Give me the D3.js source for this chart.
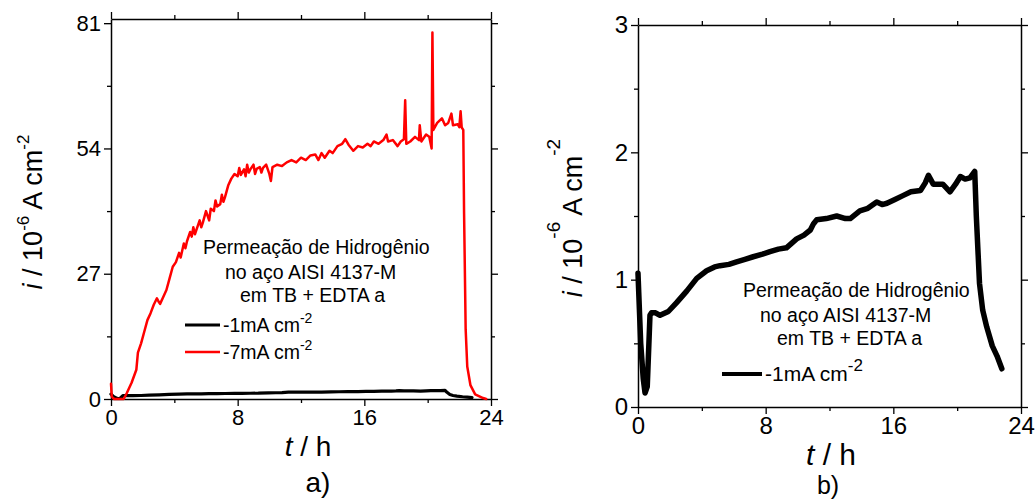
<!DOCTYPE html>
<html lang="pt">
<head>
  <meta charset="UTF-8" />
  <title>Permeação de Hidrogênio</title>
  <script src="https://d3js.org/d3.v7.min.js"></script>
  <style>
    body { margin: 0; background: #fff; }
    svg { display: block; }
    text { font-family: "Liberation Sans", Arial, sans-serif; fill: #000; }
    .domain { stroke: #000; stroke-width: 1.5px; }
    .tick line { stroke: #000; stroke-width: 1.3px; }
  </style>
</head>
<body>
  <svg width="1035" height="499"></svg>

  <script>
    // ---- data: [t / h, i / 10^-6 A cm^-2] ----
    const curve7mA = [
      [0, 3.3], [0.05, 0.5], [0.2, 0], [0.8, 0], [1.0, 1.3], [1.3, 3.5], [1.6, 6.3], [1.7, 10],
      [1.9, 12], [2.1, 14.5], [2.3, 17], [2.5, 18.5], [2.7, 20.3], [2.9, 21.7], [3.0, 21],
      [3.1, 20.5], [3.3, 22], [3.5, 23.5], [3.7, 26], [3.9, 28.5], [4.1, 29.5], [4.3, 31.5],
      [4.4, 30.5], [4.5, 32], [4.6, 33.5], [4.7, 32.5], [4.8, 34], [5.0, 36], [5.1, 35],
      [5.2, 37], [5.3, 35.5], [5.4, 36.5], [5.6, 38.5], [5.7, 37], [5.8, 38], [6.0, 40.5],
      [6.1, 39.5], [6.2, 38.5], [6.3, 41], [6.5, 40.5], [6.6, 42.8], [6.7, 41.5], [6.9, 42],
      [7.0, 44], [7.1, 42.5], [7.2, 43.5], [7.4, 46], [7.6, 47.5], [7.8, 48.5], [8.0, 48],
      [8.1, 49.8], [8.2, 48.3], [8.4, 49.5], [8.5, 48], [8.6, 50.5], [8.7, 48.8], [8.8, 49.5],
      [9.0, 50.5], [9.1, 48.5], [9.2, 49.6], [9.4, 50], [9.5, 48.8], [9.6, 49.8], [9.8, 50.5],
      [10.0, 48.5], [10.1, 47], [10.2, 50], [10.5, 50.5], [10.8, 50.2], [11.1, 51], [11.4, 51.5],
      [11.7, 51], [12.0, 52], [12.3, 51.5], [12.6, 52.5], [12.9, 52.7], [13.1, 51.5], [13.3, 53],
      [13.5, 52], [13.8, 53.5], [14.0, 53], [14.3, 54.5], [14.6, 55], [14.8, 56], [15.0, 54.8],
      [15.3, 53.5], [15.6, 54.5], [15.9, 54.2], [16.2, 55], [16.4, 54.5], [16.6, 55.5],
      [16.9, 55], [17.2, 55.8], [17.4, 57], [17.5, 55.5], [17.8, 55.8], [18.1, 54.5],
      [18.3, 55.5], [18.5, 56], [18.58, 64.4], [18.65, 55], [18.9, 55.5], [19.2, 56.5],
      [19.45, 55.8], [19.5, 59], [19.6, 55.5], [19.9, 57], [20.1, 56.5], [20.25, 54],
      [20.3, 79], [20.36, 58], [20.6, 59.5], [20.9, 60.5], [21.1, 59], [21.3, 59.5],
      [21.5, 61.5], [21.6, 59], [21.9, 59.2], [22.0, 58.6], [22.08, 62], [22.15, 58.5],
      [22.25, 58], [22.3, 40], [22.4, 15], [22.5, 7], [22.7, 3], [23.0, 1], [23.5, 0.2], [23.7, 0]
    ];

    const curve1mA = [
      [0, 1.05], [0.17, 0.5], [0.33, 0.22], [0.44, 0.11], [0.58, 0.16], [0.75, 0.72],
      [0.85, 0.74], [1.1, 0.74], [1.38, 0.72], [1.9, 0.75], [2.42, 0.82], [3.05, 0.91],
      [3.68, 1.01], [4.3, 1.07], [4.8, 1.1], [5.14, 1.11], [5.7, 1.12], [6.18, 1.14],
      [6.7, 1.16], [7.22, 1.18], [7.8, 1.2], [8.27, 1.22], [8.8, 1.24], [9.3, 1.25],
      [9.94, 1.32], [10.4, 1.35], [10.8, 1.39], [11.0, 1.44], [11.2, 1.47], [11.8, 1.48],
      [12.45, 1.5], [13.0, 1.48], [13.3, 1.48], [13.9, 1.54], [14.4, 1.56], [14.96, 1.61],
      [15.3, 1.59], [15.6, 1.6], [16.1, 1.63], [16.6, 1.66], [17.1, 1.69], [17.7, 1.70],
      [18.0, 1.76], [18.2, 1.82], [18.5, 1.75], [19.1, 1.75], [19.55, 1.69], [19.9, 1.75],
      [20.2, 1.81], [20.5, 1.79], [20.8, 1.8], [21.1, 1.85], [21.2, 1.5], [21.4, 0.97],
      [21.6, 0.76], [21.85, 0.63], [22.2, 0.48], [22.5, 0.4], [22.8, 0.3]
    ];

    const xMajor = [0, 8, 16, 24];
    const xMinor = [4, 12, 20];
    const yMajorA = [0, 27, 54, 81];
    const yMinorA = [13.5, 40.5, 67.5];
    const yMajorB = [0, 1, 2, 3];
    const yMinorB = [0.5, 1.5, 2.5];

    const annotation = ["Permeação de Hidrogênio", "no aço AISI 4137-M", "em TB + EDTA a"];
    const labels7 = "-7mA cm";
    const labels1 = "-1mA cm";

    const svg = d3.select("svg");

    function panel(p) {
      const g = svg.append("g");
      const x = d3.scaleLinear().domain([0, 24]).range([p.left, p.right]);
      const y = d3.scaleLinear().domain([0, p.yMax]).range([p.bottom, p.top]);

      // minor + major ticks on all four sides, outward
      const sides = [
        [d3.axisBottom(x), `translate(0,${p.bottom})`, xMajor, xMinor, true],
        [d3.axisTop(x), `translate(0,${p.top})`, xMajor, xMinor, false],
        [d3.axisLeft(y), `translate(${p.left},0)`, p.yMajor, p.yMinor, true],
        [d3.axisRight(y), `translate(${p.right},0)`, p.yMajor, p.yMinor, false]
      ];
      sides.forEach(([ax, tr, major, minor, labelled]) => {
        g.append("g").attr("transform", tr)
          .call(ax.tickValues(minor).tickSize(4).tickSizeOuter(0).tickFormat(""))
          .select(".domain").remove();
        const a = g.append("g").attr("transform", tr)
          .call(ax.tickValues(major).tickSize(7).tickSizeOuter(0)
            .tickFormat(labelled ? d3.format("d") : ""));
        a.selectAll(".tick text").style("font-size", p.tickFont + "px");
      });
      g.selectAll(".tick text").attr("fill", "#000");

      // series
      const line = d3.line().x(d => x(d[0])).y(d => y(d[1]));
      p.series.forEach(s => {
        g.append("path").datum(s.data)
          .attr("fill", "none")
          .attr("stroke", s.color)
          .attr("stroke-width", s.width)
          .attr("stroke-linejoin", "round")
          .attr("stroke-linecap", "round")
          .attr("d", line);
      });

      // axis titles
      const yl = g.append("text")
        .attr("transform", `translate(${p.yLab[0]},${p.yLab[1]}) rotate(-90)`)
        .attr("text-anchor", "middle")
        .style("font-size", p.yFont + "px");
      yl.append("tspan").attr("font-style", "italic").text("i");
      yl.append("tspan").text(" / 10");
      yl.append("tspan").attr("dy", -p.supUp).style("font-size", p.supFont + "px").text("-6");
      yl.append("tspan").attr("dy", p.supUp).text(p.supGap + "A cm");
      yl.append("tspan").attr("dy", -p.supUp).style("font-size", p.supFont + "px").text("-2");

      const xl = g.append("text")
        .attr("x", p.xLab[0]).attr("y", p.xLab[1])
        .attr("text-anchor", "middle")
        .style("font-size", p.xFont + "px");
      xl.append("tspan").attr("font-style", "italic").text("t");
      xl.append("tspan").text(" / h");

      g.append("text")
        .attr("x", p.tag[0]).attr("y", p.tag[1])
        .attr("text-anchor", "middle")
        .style("font-size", p.tagFont + "px")
        .text(p.tagText);

      // annotation
      annotation.forEach((t, k) => {
        g.append("text")
          .attr("x", p.note[k][0]).attr("y", p.note[k][1])
          .style("font-size", "19.5px")
          .text(t);
      });

      // legend
      p.legend.forEach(l => {
        g.append("line")
          .attr("x1", l.x1).attr("x2", l.x2).attr("y1", l.y).attr("y2", l.y)
          .attr("stroke", l.color).attr("stroke-width", l.width);
        const t = g.append("text")
          .attr("x", l.x2 + 3).attr("y", l.y + 7)
          .style("font-size", l.font + "px");
        t.append("tspan").text(l.text);
        t.append("tspan").attr("dy", -l.up).style("font-size", l.sup + "px").text("-2");
      });
    }

    panel({
      left: 111, right: 491, top: 19, bottom: 399, yMax: 81.9,
      yMajor: yMajorA, yMinor: yMinorA, tickFont: 22,
      series: [
        { data: curve1mA, color: "#000", width: 3.2 },
        { data: curve7mA, color: "#ff0000", width: 2.5 }
      ],
      yLab: [42, 212], yFont: 27, supFont: 17, supUp: 13, supGap: " ",
      xLab: [308, 456], xFont: 28,
      tag: [318, 492], tagFont: 28, tagText: "a)",
      note: [[203, 254], [225, 279], [240, 302]],
      legend: [
        { x1: 185, x2: 220, y: 325, color: "#000", width: 3.2, text: labels1, font: 19.5, sup: 14, up: 9 },
        { x1: 185, x2: 220, y: 352, color: "#ff0000", width: 2.5, text: labels7, font: 19.5, sup: 14, up: 9 }
      ]
    });

    panel({
      left: 638, right: 1021, top: 25, bottom: 407, yMax: 3,
      yMajor: yMajorB, yMinor: yMinorB, tickFont: 24,
      series: [
        { data: curve1mA, color: "#000", width: 5.5 }
      ],
      yLab: [582, 218], yFont: 27, supFont: 19, supUp: 22, supGap: "  ",
      xLab: [831, 465], xFont: 30,
      tag: [828, 494], tagFont: 25, tagText: "b)",
      note: [[743, 297], [760, 322], [777, 345]],
      legend: [
        { x1: 722, x2: 762, y: 374, color: "#000", width: 4, text: labels1, font: 21, sup: 17, up: 10 }
      ]
    });
  </script>
</body>
</html>
